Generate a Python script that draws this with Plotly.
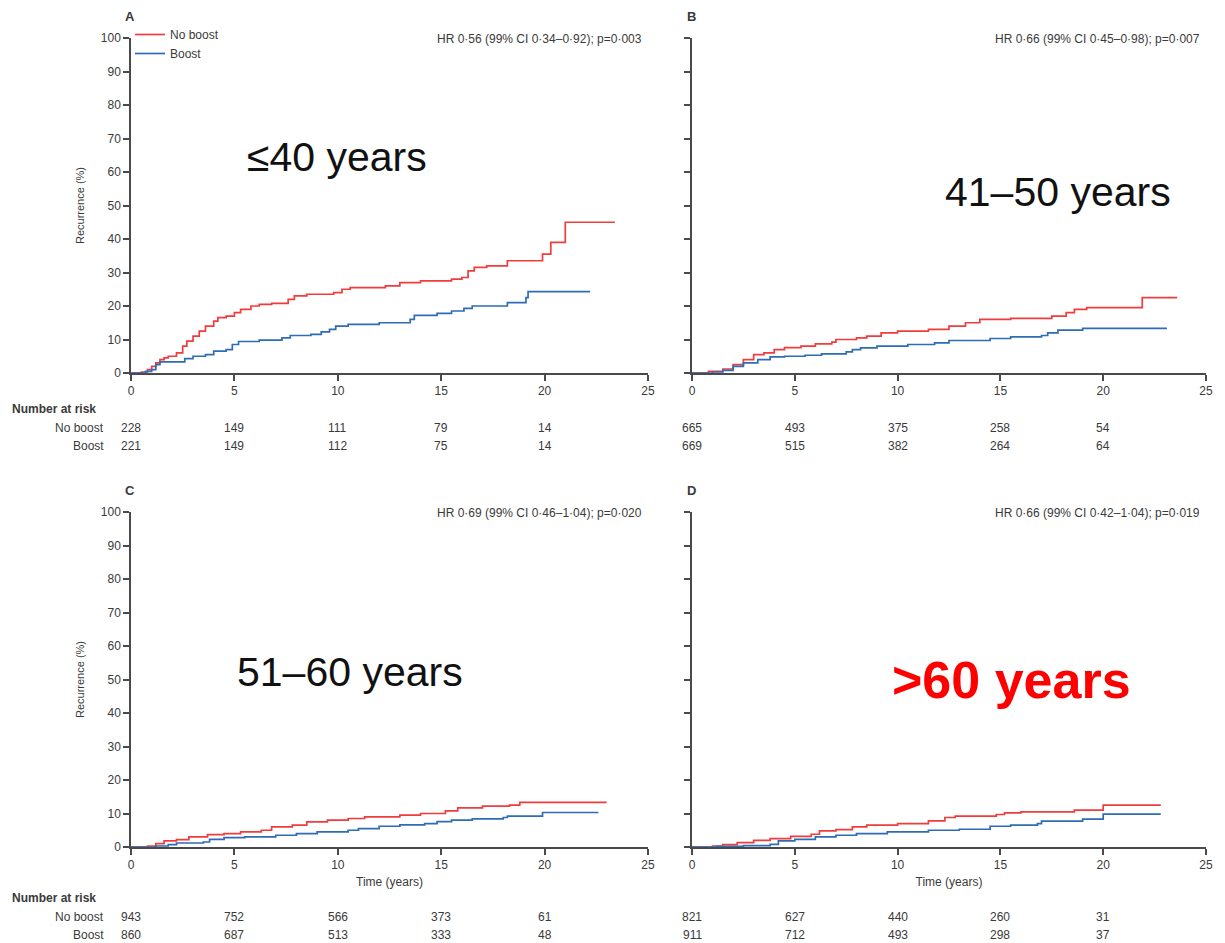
import plotly.graph_objects as go

# ---- data -------------------------------------------------------------
# Cumulative recurrence (%) step curves: event times (years) and levels
a_noboost_t = [0, 0.5, 0.8, 1.0, 1.2, 1.4, 1.6, 1.8, 2.2, 2.5, 2.7, 3.0, 3.3, 3.6, 4.0, 4.2, 4.6, 5.0, 5.3, 5.8, 6.2, 6.8,
               7.6, 7.9, 8.5, 9.8, 10.2, 10.6, 12.3, 13.0, 14.0, 15.5, 16.0, 16.3, 16.6, 17.2, 18.2, 19.9, 20.3, 21.0, 23.4]
a_noboost_v = [0, 0.3, 1.0, 2.0, 3.0, 4.0, 4.5, 5.0, 6.0, 8.0, 9.5, 11.0, 12.5, 14.0, 15.5, 16.5, 17.0, 18.0, 19.0, 20.0, 20.5, 20.8,
               22.0, 23.0, 23.5, 24.0, 25.0, 25.5, 26.0, 27.0, 27.5, 28.0, 28.5, 30.5, 31.5, 32.0, 33.5, 35.5, 39.0, 45.0, 45.0]
a_boost_t = [0, 0.7, 1.0, 1.2, 1.4, 2.6, 3.0, 3.6, 4.0, 4.6, 4.9, 5.2, 6.2, 7.3, 7.7, 8.7, 9.2, 9.6, 9.9, 10.5, 12.0,
             13.5, 13.7, 14.8, 15.5, 16.1, 16.5, 18.2, 19.1, 19.2, 22.2]
a_boost_v = [0, 0.5, 1.0, 2.5, 3.3, 4.3, 5.0, 5.5, 6.5, 7.0, 8.5, 9.4, 9.8, 10.5, 11.2, 11.5, 12.3, 13.0, 14.0, 14.5, 15.0,
             16.0, 17.2, 17.8, 18.5, 19.3, 20.0, 21.0, 22.5, 24.3, 24.3]

b_noboost_t = [0, 0.8, 1.5, 2.0, 2.5, 3.0, 3.5, 4.0, 4.5, 5.3, 6.0, 6.8, 7.0, 8.0, 8.5, 9.2, 10.0, 11.5, 12.5, 13.3, 14.0,
               15.5, 17.5, 18.2, 18.6, 19.2, 21.9, 23.6]
b_noboost_v = [0, 0.5, 1.2, 2.5, 4.0, 5.5, 6.0, 7.0, 7.6, 8.0, 8.7, 9.2, 10.0, 10.5, 11.0, 12.0, 12.5, 13.0, 14.0, 15.0, 16.0,
               16.3, 17.0, 18.0, 19.0, 19.5, 22.5, 22.5]
b_boost_t = [0, 1.0, 1.5, 2.0, 2.5, 3.2, 3.8, 4.5, 5.5, 6.3, 7.5, 7.8, 8.2, 9.0, 10.5, 11.8, 12.5, 14.5, 15.5, 17.0, 17.3,
             17.8, 19.0, 23.1]
b_boost_v = [0, 0.3, 0.8, 2.0, 3.0, 4.0, 4.8, 5.0, 5.3, 5.7, 6.3, 7.0, 7.5, 8.0, 8.5, 9.0, 9.7, 10.3, 10.8, 11.2, 12.0,
             12.8, 13.3, 13.3]

c_noboost_t = [0, 0.8, 1.2, 1.6, 2.2, 2.8, 3.7, 4.5, 5.3, 6.3, 6.8, 7.8, 8.5, 9.5, 10.5, 11.3, 13.0, 14.0, 15.2, 15.8,
               17.0, 18.3, 18.8, 23.0]
c_noboost_v = [0, 0.3, 1.0, 1.8, 2.2, 3.0, 3.7, 4.0, 4.5, 5.0, 6.0, 6.5, 7.5, 8.0, 8.5, 9.0, 9.5, 10.0, 10.8, 11.7,
               12.2, 12.5, 13.3, 13.3]
c_boost_t = [0, 1.2, 1.8, 2.2, 3.5, 3.8, 4.5, 5.5, 7.0, 8.0, 9.0, 10.5, 11.0, 12.0, 13.0, 14.2, 14.8, 15.5, 16.5, 18.0,
             18.2, 19.9, 22.6]
c_boost_v = [0, 0.3, 0.7, 1.2, 1.5, 2.3, 2.8, 3.0, 3.5, 4.0, 4.5, 5.0, 5.5, 6.2, 6.6, 7.0, 7.6, 8.0, 8.4, 8.8,
             9.2, 10.3, 10.3]

d_noboost_t = [0, 1.0, 1.5, 2.2, 3.0, 3.8, 4.8, 5.8, 6.2, 7.0, 7.8, 8.5, 10.0, 11.5, 12.3, 12.8, 14.8, 15.2, 16.0,
               18.6, 20.0, 22.8]
d_noboost_v = [0, 0.3, 0.7, 1.3, 2.0, 2.5, 3.2, 3.8, 4.8, 5.2, 6.0, 6.5, 7.0, 7.8, 8.8, 9.2, 9.7, 10.2, 10.5,
               11.0, 12.5, 12.5]
d_boost_t = [0, 1.2, 2.5, 3.8, 4.2, 5.0, 6.0, 7.0, 8.0, 9.5, 11.5, 13.0, 14.5, 15.5, 16.8, 17.0, 19.0, 20.0, 22.8]
d_boost_v = [0, 0.2, 0.4, 0.8, 1.8, 2.3, 3.0, 3.5, 4.0, 4.5, 5.0, 5.3, 6.2, 6.5, 7.0, 7.7, 8.3, 9.8, 9.8]

# Number at risk at 0, 5, 10, 15, 20 years
risk_times = [0, 5, 10, 15, 20]
a_risk_noboost = [228, 149, 111, 79, 14]
a_risk_boost = [221, 149, 112, 75, 14]
b_risk_noboost = [665, 493, 375, 258, 54]
b_risk_boost = [669, 515, 382, 264, 64]
c_risk_noboost = [943, 752, 566, 373, 61]
c_risk_boost = [860, 687, 513, 333, 48]
d_risk_noboost = [821, 627, 440, 260, 31]
d_risk_boost = [911, 712, 493, 298, 37]

panel_letters = ["A", "B", "C", "D"]
hr_texts = ["HR 0·56 (99% CI 0·34–0·92); p=0·003",
            "HR 0·66 (99% CI 0·45–0·98); p=0·007",
            "HR 0·69 (99% CI 0·46–1·04); p=0·020",
            "HR 0·66 (99% CI 0·42–1·04); p=0·019"]
age_groups = ["≤40 years", "41–50 years", "51–60 years", ">60 years"]

# ---- layout geometry (pixels) ----------------------------------------
W, H = 1225, 943
RED = "#f03c3c"
BLUE = "#2e6cb5"
AX = "#4a4a4a"
TXT = "#3a3a3a"
FONT = "Liberation Sans Narrow, Liberation Sans, Arial, sans-serif"


def px(x):
    return x / W


def py(y):
    return 1 - y / H


# x-pixel spans of the left/right plots and y-pixel spans of the top/bottom plots
cols = [(131, 648), (692, 1206)]
rows = [(38, 373), (512, 847)]

fig = go.Figure()

panels = [
    (a_noboost_t, a_noboost_v, a_boost_t, a_boost_v, a_risk_noboost, a_risk_boost),
    (b_noboost_t, b_noboost_v, b_boost_t, b_boost_v, b_risk_noboost, b_risk_boost),
    (c_noboost_t, c_noboost_v, c_boost_t, c_boost_v, c_risk_noboost, c_risk_boost),
    (d_noboost_t, d_noboost_v, d_boost_t, d_boost_v, d_risk_noboost, d_risk_boost),
]


def note(text, x, y, xanchor="center", size=12, xref="paper", color=TXT, family=FONT):
    return dict(text=text, x=x, y=y, xref=xref, yref="paper", xanchor=xanchor, yanchor="middle",
                showarrow=False, font=dict(family=family, size=size, color=color))


annotations = []
for i, (nt, nv, bt, bv, rn, rb) in enumerate(panels):
    r, c = divmod(i, 2)
    k = "" if i == 0 else str(i + 1)
    xa, ya = "x" + k, "y" + k
    x0, x1 = cols[c]
    y0, y1 = rows[r]

    fig.add_trace(go.Scatter(x=nt, y=nv, mode="lines", line=dict(color=RED, width=1.7, shape="hv"),
                             name="No boost", showlegend=(i == 0), xaxis=xa, yaxis=ya))
    fig.add_trace(go.Scatter(x=bt, y=bv, mode="lines", line=dict(color=BLUE, width=1.7, shape="hv"),
                             name="Boost", showlegend=(i == 0), xaxis=xa, yaxis=ya))

    xaxis = dict(domain=[px(x0), px(x1)], range=[0, 25], anchor=ya, showgrid=False, zeroline=False,
                 automargin=False, showline=True, linecolor=AX, linewidth=1.5, ticks="outside", ticklen=6,
                 tickwidth=1.5, tickcolor=AX, tickvals=[0, 5, 10, 15, 20, 25],
                 tickfont=dict(family=FONT, size=12, color=TXT))
    yaxis = dict(domain=[py(y1), py(y0)], range=[0, 100], anchor=xa, showgrid=False, zeroline=False,
                 automargin=False, showline=True, linecolor=AX, linewidth=1.5, ticks="outside", ticklen=6,
                 tickwidth=1.5, tickcolor=AX, tickvals=list(range(0, 101, 10)),
                 tickfont=dict(family=FONT, size=12, color=TXT), showticklabels=(c == 0))
    if c == 0:
        yaxis["title"] = dict(text="Recurrence (%)", font=dict(family=FONT, size=11, color=TXT), standoff=14)
    if r == 1:
        xaxis["title"] = dict(text="Time (years)", font=dict(family=FONT, size=12, color=TXT), standoff=6)
    fig.layout["xaxis" + k] = xaxis
    fig.layout["yaxis" + k] = yaxis

    # panel letter and hazard ratio
    annotations.append(note("<b>" + panel_letters[i] + "</b>", px(x0 - 1), py(y0 - 22), size=13))
    annotations.append(note(hr_texts[i], px(x1 - 4), py(y0 + 1), xanchor="right"))

    # number at risk rows
    base = 428 if r == 0 else 917
    if c == 0:
        annotations.append(note("<b>Number at risk</b>", px(10), py(base - 19), xanchor="left"))
        for lbl, yy in (("No boost", base), ("Boost", base + 18)):
            annotations.append(note(lbl, px(106), py(yy), xanchor="right"))
    for vals, yy in ((rn, base), (rb, base + 18)):
        for t, n in zip(risk_times, vals):
            annotations.append(note(str(n), t, py(yy), xref=xa))

# age-group captions
BIG = "Liberation Sans, Arial, sans-serif"
annotations += [
    note(age_groups[0], px(337), py(157), size=41, color="#111111", family=BIG),
    note(age_groups[1], px(1058), py(192), size=41, color="#111111", family=BIG),
    note(age_groups[2], px(350), py(672), size=41, color="#111111", family=BIG),
    note("<b>" + age_groups[3] + "</b>", px(1011), py(680), size=52, color="#ff0000", family=BIG),
]

fig.update_layout(
    width=W, height=H, margin=dict(l=0, r=0, t=0, b=0, autoexpand=False),
    paper_bgcolor="white", plot_bgcolor="white",
    annotations=annotations,
    showlegend=True,
    legend=dict(x=px(130), y=py(20), xanchor="left", yanchor="top", bgcolor="rgba(0,0,0,0)",
                font=dict(family=FONT, size=12, color=TXT), itemwidth=30, tracegroupgap=0),
)

fig.write_html("out.html")
